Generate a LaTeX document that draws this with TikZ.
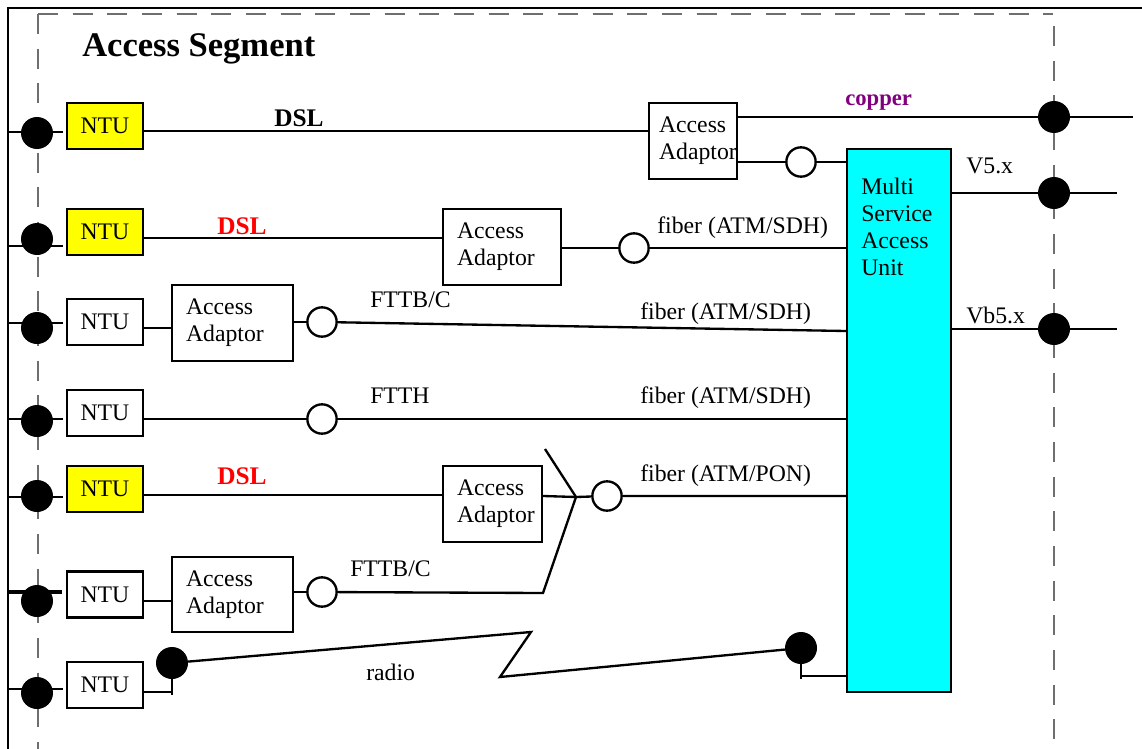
\documentclass[tikz,border=0pt]{standalone}
\usepackage{fontspec}
\setmainfont{Liberation Serif}
\definecolor{ntuyellow}{RGB}{255,255,0}
\definecolor{unitcyan}{RGB}{0,255,255}
\definecolor{copperpurple}{RGB}{128,0,128}
\definecolor{dslred}{RGB}{255,0,0}
\definecolor{edgegray}{RGB}{110,110,110}
\begin{document}
\begin{tikzpicture}[x=0.75pt,y=-0.75pt,
  font=\fontsize{17.8}{20.25}\selectfont,
  wire/.style={line width=1.75pt},
  edge/.style={draw=edgegray,line width=1.1pt,dash pattern=on 15pt off 11pt},
  box/.style={draw,line width=1.8pt,inner sep=0pt},
  ntu/.style={box,fill=white,minimum width=57pt,minimum height=34.5pt},
  ntuy/.style={ntu,fill=ntuyellow},
  adaptor/.style={box,fill=white,minimum height=57pt,text width=#1,inner xsep=10.5pt,align=left},
  bigdot/.style={circle,fill=black,inner sep=0pt,minimum size=24pt},
  port/.style={circle,draw,fill=white,line width=1.75pt,inner sep=0pt,minimum size=22pt},
  lbl/.style={anchor=base west,inner sep=0pt},
  dsl/.style={lbl,font=\bfseries\fontsize{19}{22}\selectfont}]
\useasboundingbox (0,0) rectangle (1142,749);

% outer frame and segment boundary
\draw[line width=2pt] (8,749) -- (8,8) -- (1142,8);
\draw[edge] (38,14) -- (1053,14);
\draw[edge] (38,14) -- (38,749);
\draw[edge] (1054,26) -- (1054,749);

% title
\node[lbl,font=\bfseries\fontsize{25.9}{30}\selectfont] (title) at (82,57) {Access Segment};

% network termination units
\node[ntuy] (ntu1) at (105,126) {NTU};
\node[ntuy] (ntu2) at (105,232) {NTU};
\node[ntu]  (ntu3) at (105,322) {NTU};
\node[ntu]  (ntu4) at (105,413) {NTU};
\node[ntuy] (ntu5) at (105,489) {NTU};
\node[ntu]  (ntu6) at (105,594.5) {NTU};
\node[ntu]  (ntu7) at (105,685) {NTU};

% access adaptors
\node[adaptor=51pt,minimum height=57pt,inner xsep=7.5pt] (aa1) at (693,141) {Access\\Adaptor};
\node[adaptor=67.5pt]  (aa2) at (502,247) {Access\\Adaptor};
\node[adaptor=69.75pt] (aa3) at (232.5,323) {Access\\Adaptor};
\node[adaptor=53.25pt] (aa5) at (492.5,504) {Access\\Adaptor};
\node[adaptor=69.75pt,minimum height=56.25pt] (aa6) at (232.5,594.5) {Access\\Adaptor};

% multi service access unit
\node[box,fill=unitcyan,minimum width=78pt,minimum height=407.25pt] (msau) at (899,420.5) {};
\node[lbl,align=left] (msautxt) at (861,275) {Multi\\Service\\Access\\Unit};

% optical ports
\node[port] (c1) at (801,162) {};
\node[port] (c2) at (634,248) {};
\node[port] (c3) at (322,322) {};
\node[port] (c4) at (322,419) {};
\node[port] (c5) at (607,496) {};
\node[port] (c6) at (322,592) {};

% splitter junction
\coordinate (sp) at (576,497);
\coordinate (spup) at (545,449);
\coordinate (splow) at (543,593);

% radio link corners
\coordinate (zz1) at (531,632);
\coordinate (zz2) at (500,677);

% user side stubs
\draw[wire] (8,132) -- (63,132);
\draw[wire] (8,246) -- (63,246);
\draw[wire] (8,323) -- (63,323);
\draw[wire] (8,419) -- (63,419);
\draw[wire] (8,497) -- (63,497);
\draw[line width=3pt] (8,592) -- (62,592);
\draw[wire] (8,689) -- (63,689);

% interface points at the segment boundary
\node[bigdot] (p1) at (37,133) {};
\node[bigdot] (p2) at (37,239) {};
\node[bigdot] (p3) at (37,328) {};
\node[bigdot] (p4) at (37,421) {};
\node[bigdot] (p5) at (37,496) {};
\node[bigdot] (p6) at (37,601) {};
\node[bigdot] (p7) at (37,693) {};

% row 1: DSL to adaptor, copper and fiber onward
\draw[wire] (ntu1.east |- 0,131) -- (aa1.west |- 0,131);
\draw[wire] (aa1.east |- 0,117) -- (1133,117);
\draw[wire] (aa1.east |- c1) -- (c1) -- (msau.west |- c1);
\node[bigdot] (q1) at (1054,117) {};

% network side interfaces
\draw[wire] (msau.east |- 0,193) -- (1117,193);
\draw[wire] (msau.east |- 0,329) -- (1117,329);
\node[bigdot] (q2) at (1054,193) {};
\node[bigdot] (q3) at (1054,329) {};

% row 2
\draw[wire] (ntu2.east |- 0,238) -- (aa2.west |- 0,238);
\draw[wire] (aa2.east |- c2) -- (c2) -- (msau.west |- c2);

% row 3
\draw[wire] (ntu3.east |- 0,328) -- (aa3.west |- 0,328);
\draw[wire] (aa3.east |- c3) -- (c3);
\draw[wire] (c3) -- (msau.west |- 0,331);

% row 4
\draw[wire] (ntu4.east |- c4) -- (c4) -- (msau.west |- c4);

% rows 5 and 6 joined by the splitter
\draw[wire] (ntu5.east |- 0,495) -- (aa5.west |- 0,495);
\draw[wire] (aa5.east |- 0,496) -- (sp);
\draw[wire] (spup) -- (sp) -- (splow) -- (c6);
\draw[wire] (sp) -- (c5) -- (msau.west |- c5);
\draw[wire] (ntu6.east |- 0,601) -- (aa6.west |- 0,601);
\draw[wire] (aa6.east |- c6) -- (c6);

% row 7: radio link
\node[bigdot] (r1) at (172,663) {};
\node[bigdot] (r2) at (801,648) {};
\draw[wire] (ntu7.east |- 0,692) -- (r1 |- 0,692);
\draw[wire] (r1.center) -- (r1 |- 0,695);
\draw[wire] (r1) -- (zz1) -- (zz2) -- (r2);
\draw[wire] (r2.center) -- (r2 |- 0,679);
\draw[wire] (r2 |- 0,676) -- (msau.west |- 0,676);

% line labels
\node[dsl] (dsl1) at (274,127) {DSL};
\node[lbl,font=\bfseries\fontsize{17}{20}\selectfont,text=copperpurple] (copper) at (845,105) {copper};
\node[dsl,text=dslred] (dsl2) at (217,234) {DSL};
\node[dsl,text=dslred] (dsl5) at (217,484) {DSL};
\node[lbl] (fib2) at (657,233) {fiber (ATM/SDH)};
\node[lbl] (fttbc3) at (370,307) {FTTB/C};
\node[lbl] (fib3) at (640,319) {fiber (ATM/SDH)};
\node[lbl] (ftth) at (370,403) {FTTH};
\node[lbl] (fib4) at (640,403) {fiber (ATM/SDH)};
\node[lbl] (fib5) at (640,481) {fiber (ATM/PON)};
\node[lbl] (fttbc6) at (350,576) {FTTB/C};
\node[lbl] (radio) at (366,680) {radio};
\node[lbl] (v5) at (966,173) {V5.x};
\node[lbl] (vb5) at (966,323) {Vb5.x};
\end{tikzpicture}
\end{document}
